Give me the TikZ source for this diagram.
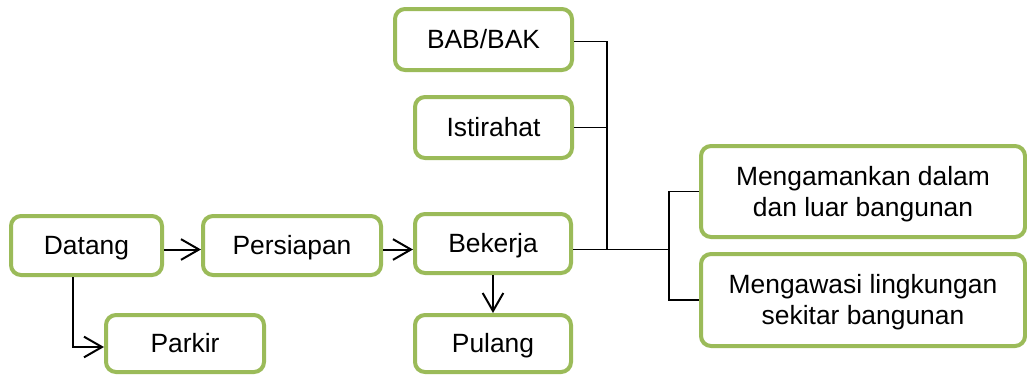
\documentclass[tikz,border=0pt]{standalone}
\usepackage{fontspec}
\setmainfont{Liberation Sans}
\usetikzlibrary{arrows.meta}
\definecolor{boxgreen}{RGB}{155,187,89}
\begin{document}
\begin{tikzpicture}[x=0.75pt,y=-0.75pt,
  box/.style={draw=boxgreen, line width=3pt, rounded corners=7.5pt, fill=white,
    inner sep=0pt, align=center, font=\fontsize{19.8}{23.25}\selectfont},
  single/.style={text height=14.2pt, text depth=0pt},
  double/.style={text height=37.45pt, text depth=0pt},
  arr/.style={line width=1.5pt, -{Straight Barb[length=13.5pt,width=15.5pt,line width=1.5pt]}},
  tree/.style={line width=1.1pt}]
\useasboundingbox (0,0) rectangle (1027,376);

\node[box,single,minimum width=132.75pt,minimum height=45.75pt] (bab) at (483.5,39.5) {BAB/BAK};
\node[box,single,minimum width=117.75pt,minimum height=45.75pt] (ist) at (493.5,127.5) {Istirahat};
\node[box,single,minimum width=113.25pt,minimum height=44.25pt] (datang) at (86.5,245.5) {Datang};
\node[box,single,minimum width=133.5pt,minimum height=44.25pt] (persiapan) at (292,245.5) {Persiapan};
\node[box,single,minimum width=117pt,minimum height=44.25pt] (bekerja) at (493,243.5) {Bekerja};
\node[box,single,minimum width=118.5pt,minimum height=42.75pt] (parkir) at (185,343.5) {Parkir};
\node[box,single,minimum width=117pt,minimum height=42.75pt] (pulang) at (493,343.5) {Pulang};
\node[box,double,minimum width=243pt,minimum height=68.25pt] (aman) at (863,191.5) {Mengamankan dalam\\dan luar bangunan};
\node[box,double,minimum width=243pt,minimum height=69pt] (awas) at (863,300) {Mengawasi lingkungan\\sekitar bangunan};

\coordinate (ay) at (0,249.5);
\coordinate (dx) at (73,0);
\coordinate (py) at (0,347);
\coordinate (tx) at (607,0);
\coordinate (bx) at (669,0);

\draw[arr] (datang.east |- ay) -- (persiapan.west |- ay);
\draw[arr] (persiapan.east |- ay) -- (bekerja.west |- ay);
\draw[arr] (datang.south -| dx) -- (dx |- py) -- (parkir.west |- py);
\draw[arr] (bekerja) -- (pulang);

\draw[tree] ([yshift=-1.5pt]bab.east) -| (tx |- ay);
\draw[tree] (ist.east) -- (tx |- ist.east);
\draw[tree] (bekerja.east |- ay) -- (bx |- ay);
\draw[tree] (aman.west) -| (bx |- awas.west) -- (awas.west);
\end{tikzpicture}
\end{document}
